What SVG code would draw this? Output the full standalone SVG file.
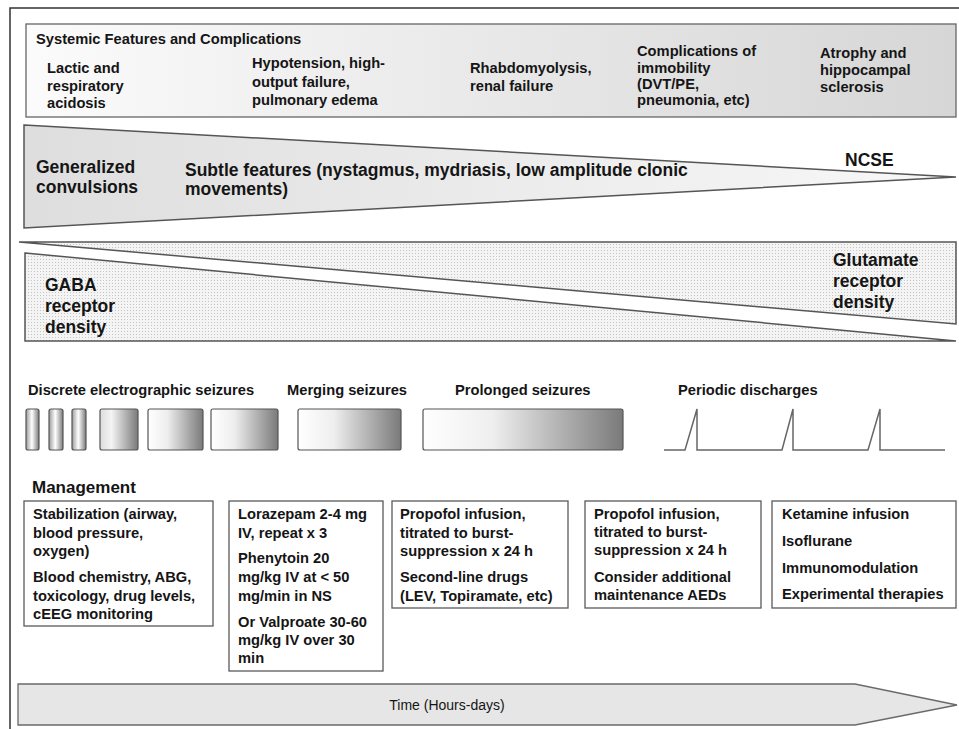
<svg xmlns="http://www.w3.org/2000/svg" width="959" height="729" viewBox="0 0 959 729">
<defs>
<linearGradient id="gTop" x1="0" y1="0" x2="1" y2="0"><stop offset="0" stop-color="#fbfbfb"/><stop offset="1" stop-color="#d6d6d6"/></linearGradient>
<linearGradient id="gTri" x1="0" y1="0" x2="1" y2="0"><stop offset="0" stop-color="#dedede"/><stop offset="1" stop-color="#f8f8f8"/></linearGradient>
<linearGradient id="gBar" x1="0" y1="0" x2="1" y2="0"><stop offset="0" stop-color="#ffffff"/><stop offset="0.35" stop-color="#eeeeee"/><stop offset="1" stop-color="#7a7a7a"/></linearGradient>
<linearGradient id="gNarrow" x1="0" y1="0" x2="1" y2="0"><stop offset="0" stop-color="#9a9a9a"/><stop offset="0.45" stop-color="#ffffff"/><stop offset="1" stop-color="#7a7a7a"/></linearGradient>
<linearGradient id="gSmall" x1="0" y1="0" x2="1" y2="0"><stop offset="0" stop-color="#dcdcdc"/><stop offset="0.3" stop-color="#f4f4f4"/><stop offset="1" stop-color="#7a7a7a"/></linearGradient>
<pattern id="dots" width="3" height="3" patternUnits="userSpaceOnUse"><rect width="3" height="3" fill="#f4f4f4"/><rect x="1" y="1" width="1" height="1" fill="#c4c4c4"/></pattern>
<style>
text{font-family:"Liberation Sans",Arial,sans-serif;fill:#151515}
.b{font-weight:bold;font-size:14.7px}
.big{font-weight:bold;font-size:17.5px}
.box{fill:#ffffff;stroke:#5a5a5a;stroke-width:1.3}
.bar{stroke:#555;stroke-width:1.2}
.tri{stroke:#555;stroke-width:1.5}
</style>
</defs>
<rect width="959" height="729" fill="#ffffff"/>
<g id="frame" fill="none" stroke="#333" stroke-width="1.5">
<path d="M10,729 V8 H959"/>
</g>
<g id="systemic">
<rect x="26" y="24" width="930" height="93" fill="url(#gTop)" stroke="#666" stroke-width="1.3"/>
<text class="b" x="36" y="44">Systemic Features and Complications</text>
<text class="b" x="47" y="73">Lactic and</text>
<text class="b" x="47" y="91">respiratory</text>
<text class="b" x="47" y="108">acidosis</text>
<text class="b" x="252" y="68">Hypotension, high-</text>
<text class="b" x="252" y="87">output failure,</text>
<text class="b" x="252" y="105">pulmonary edema</text>
<text class="b" x="470" y="73">Rhabdomyolysis,</text>
<text class="b" x="470" y="91">renal failure</text>
<text class="b" x="637" y="56">Complications of</text>
<text class="b" x="637" y="73">immobility</text>
<text class="b" x="637" y="89">(DVT/PE,</text>
<text class="b" x="637" y="105">pneumonia, etc)</text>
<text class="b" x="820" y="58">Atrophy and</text>
<text class="b" x="820" y="75">hippocampal</text>
<text class="b" x="820" y="92">sclerosis</text>
</g>
<g id="convulsions">
<polygon class="tri" points="24,125 956,177 24,228" fill="url(#gTri)"/>
<text class="big" x="36" y="173">Generalized</text>
<text class="big" x="36" y="193">convulsions</text>
<text class="big" x="185" y="176">Subtle features (nystagmus, mydriasis, low amplitude clonic</text>
<text class="big" x="185" y="195">movements)</text>
<text class="big" x="845" y="166">NCSE</text>
</g>
<g id="glutamate">
<polygon class="tri" points="19,242 956,242 956,324" fill="url(#dots)" stroke="#666"/>
<text class="big" x="833" y="266">Glutamate</text>
<text class="big" x="833" y="287">receptor</text>
<text class="big" x="833" y="308">density</text>
</g>
<g id="gaba">
<polygon class="tri" points="25,253 956,341 25,341" fill="url(#dots)" stroke="#666"/>
<text class="big" x="45" y="291">GABA</text>
<text class="big" x="45" y="312">receptor</text>
<text class="big" x="45" y="333">density</text>
</g>
<g id="discrete">
<text class="b" x="28" y="395">Discrete electrographic seizures</text>
<rect class="bar" x="26" y="409" width="13" height="41" rx="2" fill="url(#gNarrow)"/>
<rect class="bar" x="49" y="409" width="14" height="41" rx="2" fill="url(#gNarrow)"/>
<rect class="bar" x="72" y="409" width="14" height="41" rx="2" fill="url(#gNarrow)"/>
<rect class="bar" x="100" y="409" width="38" height="41" rx="2" fill="url(#gSmall)"/>
<rect class="bar" x="148" y="409" width="55" height="41" rx="2" fill="url(#gBar)"/>
<rect class="bar" x="211" y="409" width="67" height="41" rx="2" fill="url(#gBar)"/>
</g>
<g id="merging">
<text class="b" x="287" y="395">Merging seizures</text>
<rect class="bar" x="298" y="409" width="103" height="41" rx="2" fill="url(#gBar)"/>
</g>
<g id="prolonged">
<text class="b" x="455" y="395">Prolonged seizures</text>
<rect class="bar" x="423" y="409" width="200" height="41" rx="2" fill="url(#gBar)"/>
</g>
<g id="periodic">
<text class="b" x="678" y="395">Periodic discharges</text>
<path d="M664,450 H685 L697,409 V450 H782 L793,409 V450 H868 L880,409 V450 H945" fill="none" stroke="#666" stroke-width="1.5"/>
</g>
<g id="management">
<text class="big" x="32" y="493" style="font-size:17px">Management</text>
</g>
<g id="mgmt-1">
<rect class="box" x="24" y="501" width="189" height="125"/>
<text class="b" x="33" y="519">Stabilization (airway,</text>
<text class="b" x="33" y="538">blood pressure,</text>
<text class="b" x="33" y="556">oxygen)</text>
<text class="b" x="33" y="582">Blood chemistry, ABG,</text>
<text class="b" x="33" y="601">toxicology, drug levels,</text>
<text class="b" x="33" y="619">cEEG monitoring</text>
</g>
<g id="mgmt-2">
<rect class="box" x="229" y="501" width="154" height="170"/>
<text class="b" x="238" y="519">Lorazepam 2-4 mg</text>
<text class="b" x="238" y="538">IV, repeat x 3</text>
<text class="b" x="238" y="563">Phenytoin 20</text>
<text class="b" x="238" y="582">mg/kg IV at &lt; 50</text>
<text class="b" x="238" y="601">mg/min in NS</text>
<text class="b" x="238" y="627">Or Valproate 30-60</text>
<text class="b" x="238" y="645">mg/kg IV over 30</text>
<text class="b" x="238" y="663">min</text>
</g>
<g id="mgmt-3">
<rect class="box" x="392" y="501" width="176" height="107"/>
<text class="b" x="400" y="519">Propofol infusion,</text>
<text class="b" x="400" y="538">titrated to burst-</text>
<text class="b" x="400" y="556">suppression x 24 h</text>
<text class="b" x="400" y="582">Second-line drugs</text>
<text class="b" x="400" y="601">(LEV, Topiramate, etc)</text>
</g>
<g id="mgmt-4">
<rect class="box" x="585" y="501" width="176" height="107"/>
<text class="b" x="594" y="519">Propofol infusion,</text>
<text class="b" x="594" y="537">titrated to burst-</text>
<text class="b" x="594" y="555">suppression x 24 h</text>
<text class="b" x="594" y="582">Consider additional</text>
<text class="b" x="594" y="600">maintenance AEDs</text>
</g>
<g id="mgmt-5">
<rect class="box" x="772" y="501" width="184" height="107"/>
<text class="b" x="782" y="519">Ketamine infusion</text>
<text class="b" x="782" y="546">Isoflurane</text>
<text class="b" x="782" y="573">Immunomodulation</text>
<text class="b" x="782" y="599">Experimental therapies</text>
</g>
<g id="time">
<polygon points="18,684 855,684 957,705 855,725 18,725" fill="#e6e6e6" stroke="#6a6a6a" stroke-width="1.3"/>
<text x="447" y="710" text-anchor="middle" style="font-size:14px">Time (Hours-days)</text>
</g>
</svg>
